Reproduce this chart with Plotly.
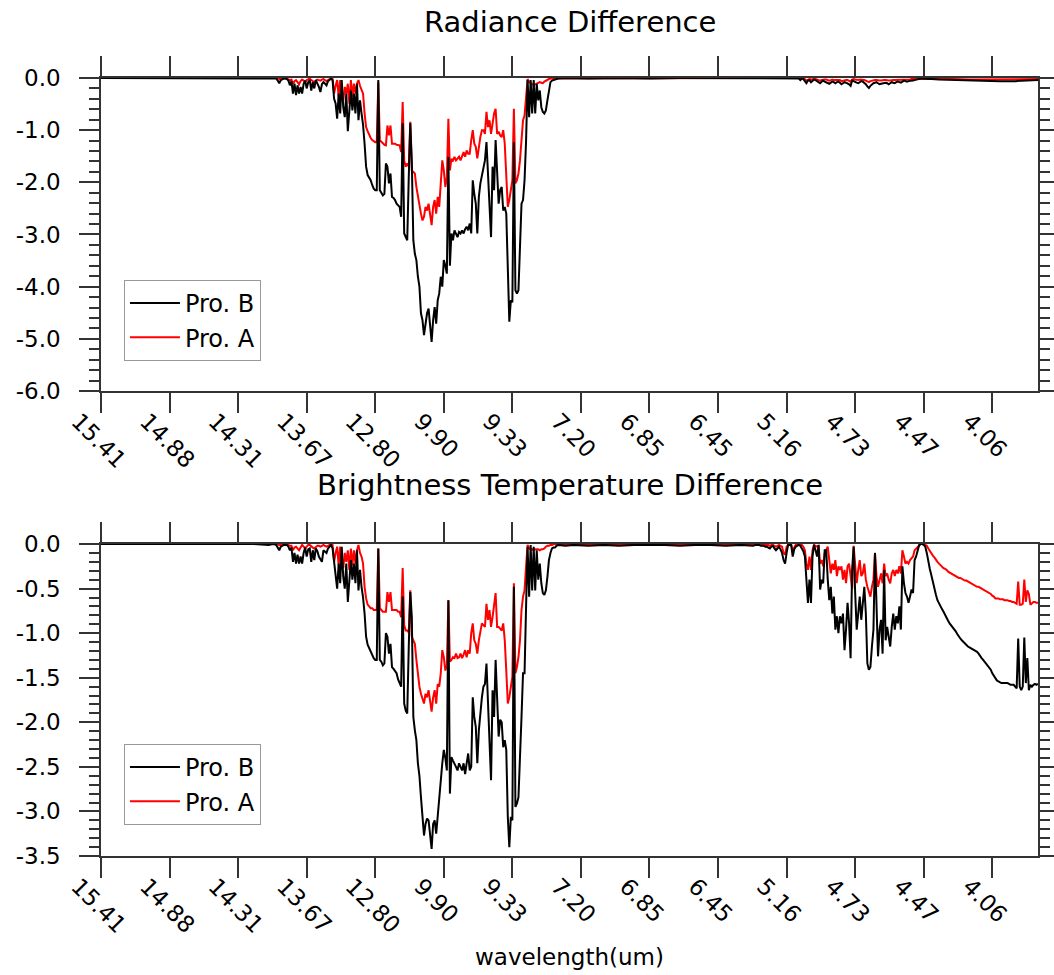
import plotly.graph_objects as go

# ---------------- axis labels ----------------
TICK_CH = [0, 45, 90, 135, 180, 225, 270, 315, 360, 405, 450, 495, 540, 585]
TICK_WL = ["15.41", "14.88", "14.31", "13.67", "12.80", "9.90", "9.33",
           "7.20", "6.85", "6.45", "5.16", "4.73", "4.47", "4.06"]
RAD_YTICKS = [-6, -5, -4, -3, -2, -1, 0]
RAD_YLABELS = ["-6.0", "-5.0", "-4.0", "-3.0", "-2.0", "-1.0", "0.0"]
BT_YTICKS = [-3.5, -3.0, -2.5, -2.0, -1.5, -1.0, -0.5, 0.0]
BT_YLABELS = ["-3.5", "-3.0", "-2.5", "-2.0", "-1.5", "-1.0", "-0.5", "0.0"]

# ---------------- Radiance difference, Pro. B ----------------
RAD_B_CH = ([0, 60, 100, 110, 113, 115] + list(range(116, 301)) +
            [305, 320, 340, 360, 380, 400, 420, 440, 455, 458] + list(range(459, 541)) +
            [545, 550, 560, 570, 580, 590, 600, 605, 610, 615])
RAD_B = [0, 0, 0, -0.01, 0, -0.01,
    -0.05, -0.10, -0.04, -0.02, -0.01, -0.01, -0.02, -0.05, -0.14, -0.06,
    -0.30, -0.11, -0.33, -0.14, -0.30, -0.17, -0.30, -0.11, -0.05, -0.20,
    -0.08, -0.04, -0.24, -0.08, -0.20, -0.04, -0.10, -0.17, -0.27, -0.12,
    -0.08, -0.12, -0.14, -0.06, -0.04, -0.01, -0.04, -0.40, -0.49, -0.78,
    -0.30, -0.68, -0.04, -0.56, -0.75, -0.30, -1.02, -0.56, -0.24, -0.62,
    -0.30, -0.68, -0.11, -0.81, -0.43, -0.68, -0.90, -1.26, -1.70, -1.86,
    -1.90, -1.96, -2.05, -2.12, -2.15, -2.15, -0.04, -2.15, -2.20, -2.25,
    -2.22, -1.64, -1.70, -2.02, -1.83, -2.28, -2.30, -2.34, -2.41, -2.44,
    -2.47, -2.66, -0.87, -2.98, -3.05, -3.11, -1.90, -0.87, -1.60, -3.11,
    -3.37, -3.49, -3.81, -4.00, -4.51, -4.64, -4.93, -4.71, -4.51, -4.42,
    -4.80, -5.06, -4.64, -4.39, -4.71, -4.26, -4.13, -3.81, -4.00, -3.49,
    -3.60, -3.75, -1.51, -3.60, -2.98, -3.11, -2.92, -2.98, -3.05, -2.95,
    -2.98, -2.92, -2.98, -2.90, -2.85, -2.92, -2.79, -2.98, -1.96, -2.22,
    -2.41, -2.98, -2.28, -2.02, -1.85, -1.70, -1.58, -1.23, -1.90, -2.34,
    -3.05, -1.70, -2.15, -1.19, -1.77, -2.41, -2.15, -2.09, -2.54, -2.47,
    -2.60, -3.90, -4.67, -4.26, -4.30, -1.23, -4.07, -4.13, -4.07, -3.24,
    -2.41, -2.34, -1.96, -1.20, -0.04, -0.75, -0.04, -0.68, -0.04, -0.68,
    -0.11, -0.43, -0.24, -0.56, -0.65, -0.68, -0.62, -0.43, -0.24, -0.08,
    -0.05, -0.04, -0.04, -0.02, -0.01,
    0, -0.01, 0, -0.01, 0, 0, -0.01, 0, -0.01, -0.01,
    -0.04, -0.01, -0.02, -0.05, -0.10, -0.05, -0.04, -0.08, -0.05, -0.03,
    -0.04, -0.06, -0.08, -0.10, -0.07, -0.05, -0.07, -0.08, -0.09, -0.11,
    -0.09, -0.07, -0.08, -0.10, -0.08, -0.07, -0.09, -0.12, -0.10, -0.08,
    -0.09, -0.10, -0.12, -0.15, -0.05, -0.06, -0.08, -0.09, -0.10, -0.08,
    -0.06, -0.07, -0.09, -0.12, -0.16, -0.19, -0.15, -0.12, -0.10, -0.09,
    -0.08, -0.10, -0.12, -0.11, -0.10, -0.09, -0.09, -0.10, -0.12, -0.10,
    -0.08, -0.09, -0.10, -0.08, -0.07, -0.08, -0.09, -0.07, -0.05, -0.06,
    -0.07, -0.06, -0.06, -0.05, -0.05, -0.04, -0.03, -0.02, -0.01, -0.01,
    -0.01, -0.01,
    -0.02, -0.03, -0.04, -0.05, -0.06, -0.06, -0.06, -0.05, -0.04, -0.04]

# ---------------- Radiance difference, Pro. A ----------------
RAD_A_CH = ([0, 60, 100, 115] + list(range(116, 301)) +
            [320, 360, 400, 440, 458] + list(range(459, 541)) +
            [545, 550, 560, 570, 580, 590, 600, 610, 615])
RAD_A = [0, 0, 0, 0,
    0.00, -0.02, -0.01, -0.01, -0.01, 0.00, -0.01, -0.02, -0.04, -0.03,
    -0.11, -0.06, -0.04, -0.08, -0.12, -0.06, -0.03, -0.05, -0.08, -0.04,
    -0.02, -0.01, -0.04, -0.06, -0.08, -0.05, -0.03, -0.04, -0.05, -0.03,
    -0.02, -0.04, -0.06, -0.04, -0.02, -0.01, -0.02, -0.30, -0.15, -0.04,
    -0.36, -0.04, -0.30, -0.43, -0.17, -0.30, -0.11, -0.49, -0.04, -0.36,
    -0.11, -0.30, -0.11, -0.04, -0.15, -0.24, -0.30, -0.68, -0.94, -1.02,
    -1.10, -1.15, -1.19, -1.21, -1.23, -1.23, -0.08, -1.19, -1.22, -1.26,
    -1.28, -1.29, -0.91, -1.10, -0.91, -1.26, -1.26, -1.26, -1.28, -1.29,
    -1.29, -1.42, -0.46, -1.58, -1.70, -1.64, -1.70, -0.84, -1.77, -1.80,
    -1.83, -2.09, -2.28, -2.47, -2.60, -2.73, -2.66, -2.47, -2.54, -2.41,
    -2.60, -2.82, -2.47, -2.34, -2.60, -2.28, -2.47, -2.09, -1.58, -1.77,
    -2.09, -1.90, -0.78, -1.77, -1.55, -1.58, -1.51, -1.58, -1.55, -1.51,
    -1.58, -1.51, -1.42, -1.51, -1.39, -1.45, -1.45, -1.19, -1.00, -1.26,
    -1.32, -1.54, -1.32, -1.13, -1.00, -1.00, -1.07, -0.65, -0.94, -0.81,
    -1.07, -0.87, -0.68, -0.59, -1.07, -1.03, -1.10, -1.13, -1.00, -1.26,
    -1.77, -2.47, -2.34, -2.09, -1.96, -0.59, -2.02, -1.96, -1.83, -1.58,
    -1.07, -0.81, -0.72, -0.30, -0.02, -0.08, -0.10, -0.12, -0.14, -0.12,
    -0.11, -0.09, -0.08, -0.09, -0.10, -0.07, -0.05, -0.04, -0.02, -0.01,
    -0.01, 0.00, 0.00, 0.00, 0.00,
    0, 0, 0, 0, 0,
    -0.02, 0.00, -0.01, -0.02, -0.05, -0.03, -0.02, -0.03, -0.02, -0.02,
    -0.02, -0.03, -0.04, -0.05, -0.04, -0.03, -0.03, -0.03, -0.04, -0.05,
    -0.04, -0.03, -0.04, -0.04, -0.03, -0.03, -0.04, -0.06, -0.05, -0.04,
    -0.04, -0.04, -0.05, -0.07, -0.03, -0.02, -0.03, -0.04, -0.04, -0.03,
    -0.03, -0.03, -0.04, -0.05, -0.07, -0.08, -0.06, -0.05, -0.05, -0.04,
    -0.04, -0.05, -0.05, -0.05, -0.04, -0.04, -0.04, -0.05, -0.05, -0.05,
    -0.04, -0.04, -0.04, -0.04, -0.03, -0.03, -0.04, -0.03, -0.03, -0.03,
    -0.03, -0.03, -0.03, -0.02, -0.02, -0.02, -0.02, -0.01, -0.01, -0.01,
    -0.01, -0.01,
    -0.01, -0.02, -0.02, -0.03, -0.03, -0.03, -0.03, -0.02, -0.02]

# ---------------- Brightness temperature difference, Pro. B ----------------
BT_B_CH = ([0, 60, 100, 110, 113, 115] + list(range(116, 301)) +
           [305, 310, 320, 330, 340, 350, 360, 370, 380, 390, 400, 410, 420, 428] +
           list(range(430, 616)))
BT_B = [0, 0, 0, -0.01, 0, -0.01,
    -0.05, -0.07, -0.03, -0.02, -0.01, -0.01, -0.01, -0.03, -0.07, -0.04,
    -0.20, -0.10, -0.22, -0.12, -0.22, -0.14, -0.22, -0.10, -0.04, -0.14,
    -0.06, -0.05, -0.20, -0.07, -0.18, -0.05, -0.08, -0.14, -0.18, -0.20,
    -0.07, -0.09, -0.10, -0.05, -0.03, -0.01, -0.05, -0.20, -0.30, -0.50,
    -0.22, -0.44, -0.03, -0.37, -0.50, -0.22, -0.65, -0.37, -0.18, -0.40,
    -0.22, -0.44, -0.07, -0.52, -0.29, -0.48, -0.60, -0.78, -1.04, -1.13,
    -1.17, -1.21, -1.25, -1.28, -1.30, -1.30, -0.05, -1.30, -1.32, -1.36,
    -1.34, -1.00, -1.04, -1.23, -1.12, -1.38, -1.40, -1.42, -1.45, -1.52,
    -1.57, -1.60, -0.59, -1.79, -1.87, -1.90, -1.15, -0.54, -0.82, -1.94,
    -2.09, -2.20, -2.46, -2.60, -2.84, -3.06, -3.27, -3.14, -3.08, -3.10,
    -3.30, -3.42, -3.14, -3.10, -3.25, -3.03, -2.91, -2.65, -2.46, -2.31,
    -2.40, -2.54, -0.63, -2.80, -2.39, -2.43, -2.46, -2.50, -2.54, -2.46,
    -2.50, -2.54, -2.46, -2.58, -2.46, -2.35, -2.54, -2.50, -1.72, -1.94,
    -2.05, -2.46, -2.09, -1.87, -1.72, -1.60, -1.57, -1.34, -1.79, -2.02,
    -2.65, -1.64, -1.94, -1.30, -1.72, -2.16, -1.97, -2.00, -2.28, -2.20,
    -2.31, -3.06, -3.40, -3.06, -3.10, -0.48, -2.95, -2.91, -2.84, -2.46,
    -1.94, -1.45, -1.45, -0.70, -0.03, -0.59, -0.01, -0.52, -0.03, -0.52,
    -0.07, -0.40, -0.22, -0.44, -0.55, -0.57, -0.52, -0.37, -0.18, -0.10,
    -0.05, -0.04, -0.04, -0.02, -0.01,
    -0.02, -0.01, -0.02, -0.01, -0.02, -0.01, -0.01, -0.01, -0.02, -0.01, -0.01, -0.02, -0.01, -0.02,
    -0.01, -0.01, -0.01, -0.02, -0.02, -0.02, -0.03, -0.03, -0.04, -0.05,
    -0.03, -0.02, -0.05, -0.07, -0.05, -0.03, -0.06, -0.10, -0.18, -0.22,
    -0.10, -0.01, -0.01, -0.01, -0.14, -0.06, -0.03, -0.02, -0.01, -0.02,
    -0.05, -0.08, -0.14, -0.40, -0.66, -0.40, -0.66, -0.14, -0.01, -0.07,
    -0.14, -0.01, -0.51, -0.40, -0.44, -0.07, -0.07, -0.40, -0.63, -0.48,
    -0.78, -0.59, -0.96, -0.81, -1.00, -0.81, -0.89, -0.78, -1.19, -0.96,
    -0.66, -0.89, -1.28, -0.29, -0.03, -0.55, -0.96, -0.78, -0.59, -0.85,
    -0.70, -0.48, -0.78, -1.34, -1.41, -1.38, -1.15, -0.96, -0.10, -0.66,
    -1.26, -0.96, -0.85, -1.23, -0.29, -1.08, -0.93, -1.04, -1.15, -0.93,
    -0.78, -0.96, -0.81, -0.89, -0.70, -0.96, -0.25, -0.44, -0.55, -0.59,
    -0.66, -0.59, -0.51, -0.55, -0.18, -0.14, -0.07, -0.01, 0.00, 0.00,
    -0.01, -0.03, -0.10, -0.20, -0.28, -0.35, -0.43, -0.51, -0.57, -0.63,
    -0.67, -0.70, -0.73, -0.76, -0.80, -0.83, -0.86, -0.89, -0.91, -0.93,
    -0.96, -0.98, -1.01, -1.04, -1.06, -1.08, -1.10, -1.12, -1.14, -1.15,
    -1.16, -1.17, -1.18, -1.19, -1.20, -1.21, -1.23, -1.26, -1.28, -1.30,
    -1.32, -1.34, -1.36, -1.38, -1.41, -1.45, -1.48, -1.51, -1.53, -1.54,
    -1.55, -1.56, -1.56, -1.56, -1.56, -1.56, -1.57, -1.58, -1.58, -1.58,
    -1.60, -1.62, -1.06, -1.60, -1.64, -1.60, -1.05, -1.56, -1.28, -1.64,
    -1.58, -1.60, -1.58, -1.57, -1.58, -1.57]

# ---------------- Brightness temperature difference, Pro. A ----------------
BT_A_CH = ([0, 60, 100, 115] + list(range(116, 301)) +
           [310, 320, 340, 360, 380, 400, 420, 428] + list(range(430, 616)))
BT_A = [0, 0, 0, 0,
    0.00, -0.01, -0.01, 0.00, 0.00, 0.00, -0.01, -0.01, -0.02, -0.02,
    -0.07, -0.04, -0.03, -0.05, -0.07, -0.04, -0.01, -0.03, -0.05, -0.03,
    -0.01, -0.01, -0.03, -0.04, -0.05, -0.03, -0.02, -0.02, -0.03, -0.02,
    -0.01, -0.02, -0.03, -0.02, -0.01, 0.00, -0.01, -0.20, -0.10, -0.03,
    -0.24, -0.03, -0.20, -0.27, -0.10, -0.20, -0.07, -0.29, -0.05, -0.24,
    -0.07, -0.22, -0.07, -0.01, -0.10, -0.14, -0.22, -0.48, -0.61, -0.68,
    -0.70, -0.72, -0.72, -0.74, -0.74, -0.74, -0.05, -0.72, -0.74, -0.76,
    -0.76, -0.76, -0.54, -0.65, -0.54, -0.74, -0.74, -0.74, -0.74, -0.76,
    -0.76, -0.82, -0.27, -0.91, -0.97, -0.97, -0.99, -0.52, -1.04, -1.08,
    -1.12, -1.30, -1.49, -1.60, -1.68, -1.75, -1.79, -1.68, -1.72, -1.64,
    -1.75, -1.88, -1.72, -1.64, -1.79, -1.57, -1.60, -1.45, -1.19, -1.27,
    -1.42, -1.36, -0.63, -1.32, -1.30, -1.27, -1.28, -1.23, -1.28, -1.27,
    -1.23, -1.28, -1.24, -1.19, -1.27, -1.19, -1.23, -1.00, -0.89, -1.08,
    -1.12, -1.23, -1.08, -0.97, -0.89, -0.91, -0.93, -0.67, -0.85, -0.74,
    -0.93, -0.82, -0.70, -0.55, -0.93, -0.93, -0.95, -0.97, -0.89, -1.08,
    -1.42, -1.79, -1.72, -1.57, -1.49, -0.44, -1.45, -1.38, -1.27, -1.08,
    -0.74, -0.59, -0.52, -0.25, -0.01, -0.05, -0.06, -0.06, -0.07, -0.06,
    -0.06, -0.06, -0.07, -0.06, -0.06, -0.05, -0.03, -0.02, -0.02, -0.01,
    -0.01, 0.00, 0.00, -0.01, -0.01,
    -0.01, -0.01, -0.01, -0.01, -0.01, -0.01, -0.01, -0.01,
    -0.01, -0.01, -0.01, -0.01, -0.01, -0.01, -0.01, -0.01, -0.01, -0.02,
    -0.01, -0.01, -0.02, -0.03, -0.02, -0.01, -0.02, -0.03, -0.10, -0.12,
    -0.03, -0.01, -0.01, -0.01, -0.07, -0.03, -0.01, -0.01, -0.01, -0.01,
    -0.01, -0.03, -0.07, -0.22, -0.29, -0.14, -0.29, -0.07, -0.01, -0.02,
    -0.03, -0.02, -0.22, -0.18, -0.25, -0.10, -0.07, -0.03, -0.18, -0.33,
    -0.22, -0.29, -0.18, -0.36, -0.25, -0.29, -0.25, -0.40, -0.29, -0.44,
    -0.25, -0.22, -0.36, -0.50, -0.02, -0.22, -0.44, -0.29, -0.18, -0.36,
    -0.33, -0.22, -0.40, -0.48, -0.55, -0.59, -0.48, -0.40, -0.10, -0.36,
    -0.48, -0.40, -0.33, -0.44, -0.22, -0.36, -0.33, -0.40, -0.44, -0.33,
    -0.29, -0.36, -0.29, -0.33, -0.25, -0.33, -0.07, -0.14, -0.22, -0.20,
    -0.22, -0.18, -0.16, -0.14, -0.07, -0.05, -0.03, -0.01, 0.00, 0.00,
    0.00, -0.01, -0.02, -0.05, -0.08, -0.10, -0.13, -0.15, -0.18, -0.20,
    -0.22, -0.24, -0.25, -0.27, -0.28, -0.29, -0.31, -0.32, -0.33, -0.34,
    -0.35, -0.36, -0.37, -0.38, -0.38, -0.39, -0.40, -0.41, -0.41, -0.42,
    -0.43, -0.44, -0.45, -0.46, -0.47, -0.48, -0.48, -0.49, -0.50, -0.51,
    -0.52, -0.53, -0.54, -0.55, -0.56, -0.58, -0.59, -0.61, -0.61, -0.61,
    -0.62, -0.62, -0.62, -0.63, -0.63, -0.63, -0.64, -0.64, -0.65, -0.65,
    -0.66, -0.67, -0.42, -0.68, -0.68, -0.67, -0.40, -0.65, -0.52, -0.56,
    -0.68, -0.66, -0.65, -0.65, -0.66, -0.66]

for ch, v in [(RAD_B_CH, RAD_B), (RAD_A_CH, RAD_A), (BT_B_CH, BT_B), (BT_A_CH, BT_A)]:
    assert len(ch) == len(v), (len(ch), len(v))

FONT = "DejaVu Sans"
AXC = "#333333"

fig = go.Figure()
# Pro. A drawn first, Pro. B on top (legend order reversed)
fig.add_trace(go.Scatter(x=RAD_A_CH, y=RAD_A, mode="lines", name="Pro. A",
                         line=dict(color="#ff0000", width=2), xaxis="x", yaxis="y", legend="legend"))
fig.add_trace(go.Scatter(x=RAD_B_CH, y=RAD_B, mode="lines", name="Pro. B",
                         line=dict(color="#000000", width=2), xaxis="x", yaxis="y", legend="legend"))
fig.add_trace(go.Scatter(x=BT_A_CH, y=BT_A, mode="lines", name="Pro. A",
                         line=dict(color="#ff0000", width=2), xaxis="x2", yaxis="y2", legend="legend2"))
fig.add_trace(go.Scatter(x=BT_B_CH, y=BT_B, mode="lines", name="Pro. B",
                         line=dict(color="#000000", width=2), xaxis="x2", yaxis="y2", legend="legend2"))

xcommon = dict(range=[0, 615], tickmode="array", tickvals=TICK_CH, ticktext=TICK_WL,
               tickangle=45, ticks="outside", ticklen=20, tickwidth=1.5, tickcolor=AXC,
               showline=True, linecolor=AXC, linewidth=1.5, mirror="ticks",
               showgrid=False, zeroline=False, automargin=False,
               ticklabelshift=-23, ticklabelstandoff=-14,
               tickfont=dict(family=FONT, size=23, color="black"))
ycommon = dict(ticks="outside", ticklen=20, tickwidth=1.5, tickcolor=AXC,
               showline=True, linecolor=AXC, linewidth=1.5, mirror="ticks",
               showgrid=False, zeroline=False, tickmode="array", automargin=False,
               tickfont=dict(family=FONT, size=23, color="black"), ticklabelstandoff=14)

legcommon = dict(x=0.0245, xanchor="left", yanchor="top", traceorder="reversed",
                 bgcolor="white", bordercolor="#999999", borderwidth=1,
                 font=dict(family=FONT, size=24, color="black"),
                 itemwidth=50, tracegroupgap=0)

fig.update_layout(
    width=1054, height=975,
    margin=dict(l=101, r=16, t=78, b=119, autoexpand=False),
    paper_bgcolor="white", plot_bgcolor="white",
    xaxis=dict(**xcommon, anchor="y"),
    yaxis=dict(**ycommon, domain=[0.5977, 1.0], range=[-6, 0], anchor="x",
               tickvals=RAD_YTICKS, ticktext=RAD_YLABELS,
               minor=dict(tick0=0, dtick=0.2, ticks="outside", ticklen=10,
                          tickwidth=1.5, tickcolor=AXC, showgrid=False)),
    xaxis2=dict(**xcommon, anchor="y2"),
    yaxis2=dict(**ycommon, domain=[0.0, 0.401], range=[-3.5, 0], anchor="x2",
                tickvals=BT_YTICKS, ticktext=BT_YLABELS,
                minor=dict(tick0=0, dtick=0.1, ticks="outside", ticklen=10,
                           tickwidth=1.5, tickcolor=AXC, showgrid=False)),
    legend=dict(**legcommon, y=0.7404),
    legend2=dict(**legcommon, y=0.144),
    annotations=[
        dict(text="Radiance Difference", x=0.5, y=1.072, xref="paper", yref="paper",
             xanchor="center", yanchor="middle", showarrow=False,
             font=dict(family=FONT, size=29, color="black")),
        dict(text="Brightness Temperature Difference", x=0.5, y=0.4769, xref="paper", yref="paper",
             xanchor="center", yanchor="middle", showarrow=False,
             font=dict(family=FONT, size=29, color="black")),
        dict(text="wavelength(um)", x=0.5, y=-0.1298, xref="paper", yref="paper",
             xanchor="center", yanchor="middle", showarrow=False,
             font=dict(family=FONT, size=23, color="black")),
    ],
)

fig.write_html("out.html")
